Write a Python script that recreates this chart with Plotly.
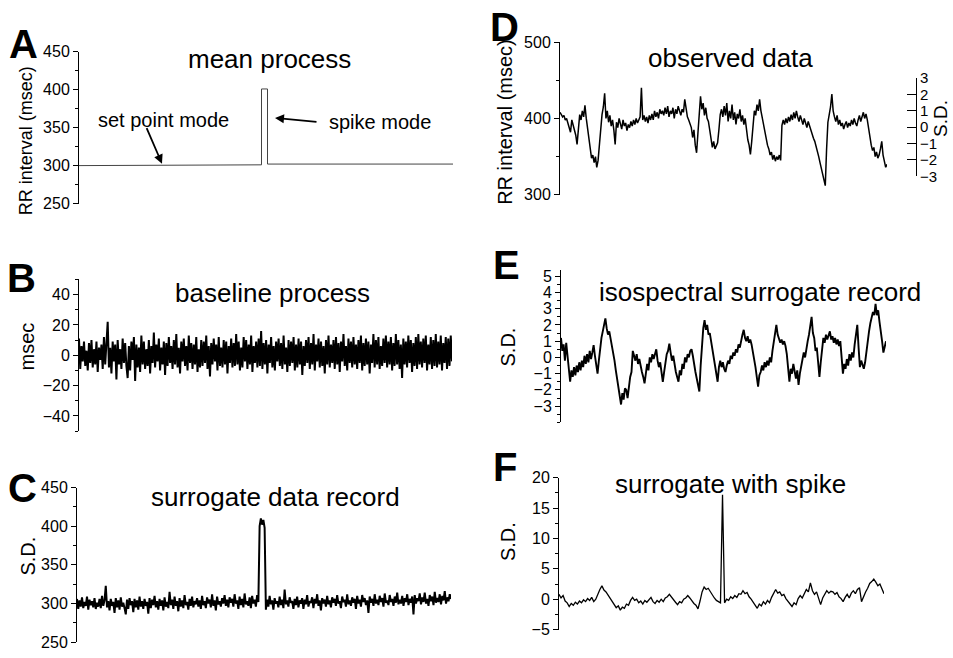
import plotly.graph_objects as go

# ---------------- data ----------------
mean_t = [0, 488, 488, 504, 504, 1000]
mean_rr = [300, 301, 401, 401, 302, 302]

baseline = [
    11, -9, 6, -4, 9, -7, 3, -10, 8, -5, 10, -8, 4, -6, 9, -11, 5, -3, 7, -9, 12, -6, 8, 22, -8,
    5, -12, 9, -4, 7, -16, 10, -6, 4, -9, 11, -5, 8, -7, -15, 6, -10, 9, -3, 12, -17, 7, -8, 5, -11,
    13, -6, 9, -9, 4, -7, 10, -12, 6, -5, 15, -8, 7, -4, 11, -10, 5, -6, 9, -13, 8, -7, 12, -5, 6,
    -9, 10, -6, 14, -8, 5, -12, 9, -4, 11, -7, 6, -10, 13, -5, 8, -9, 7, -6, 12, -11, 4, -8, 10, -7,
    9, -5, 13, -9, 6, -14, 8, -6, 11, -4, 7, -10, 12, -7, 5, -8, 10, -6, 9, -12, 6, -5, 11, -8, 8,
    -7, 14, -6, 9, -10, 5, -8, 12, -4, 10, -9, 7, -6, 13, -11, 6, -5, 9, -8, 11, -7, 16, -9, 8, -6,
    10, -12, 7, -5, 12, -8, 6, -10, 9, -4, 11, -7, 8, -9, 13, -6, 5, -11, 10, -7, 9, -5, 12, -10, 7,
    -8, 11, -6, 9, -13, 6, -7, 10, -5, 12, -9, 8, -6, 14, -10, 7, -4, 11, -8, 9, -7, 6, -12, 10, -6,
    13, -8, 7, -5, 10, -9, 12, -6, 8, -11, 9, -4, 14, -7, 6, -10, 11, -5, 9, -8, 12, -6, 7, -9, 10,
    -5, 13, -10, 8, -7, 11, -6, 9, -12, 7, -5, 14, -8, 10, -6, 12, -9, 6, -7, 11, -5, 13, -8, 9, -6,
    12, -10, 8, -7, 14, -6, 10, -9, 7, -15, 11, -6, 9, -8, 13, -5, 10, -11, 8, -7, 12, -9, 14, -6, 9,
    -8, 11, -5, 13, -10, 7, -6, 12, -9, 10, -7, 14, -8, 9, -6, 13, -10, 8, -5, 12, -9, 11, -7, 13, -4,
]

surrogate = [
    306, 293, 304, 296, 308, 294, 302, 297, 309, 292, 305, 298, 303, 295, 307, 293, 301, 296, 306, 294, 310, 297, 304, 323, 295,
    303, 291, 306, 297, 302, 288, 307, 295, 304, 292, 308, 296, 301, 294, 286, 305, 293, 307, 298, 303, 289, 306, 295, 304, 292,
    309, 296, 303, 293, 306, 297, 302, 287, 307, 294, 305, 298, 310, 295, 303, 292, 306, 297, 304, 291, 308, 296, 302, 294, 315,
    298, 305, 293, 309, 297, 303, 290, 307, 296, 304, 294, 311, 298, 302, 292, 306, 297, 309, 295, 303, 299, 307, 296, 304, 293,
    310, 298, 303, 294, 308, 300, 305, 295, 312, 297, 304, 291, 309, 299, 303, 296, 307, 300, 311, 297, 305, 295, 308, 301, 306,
    296, 312, 300, 304, 293, 309, 298, 306, 295, 313, 299, 303, 297, 308, 294, 310, 300, 305, 296, 311, 302, 400, 410, 402, 408,
    398, 292, 305, 296, 310, 299, 304, 292, 307, 300, 303, 295, 309, 298, 305, 294, 318, 299, 304, 296, 308, 301, 303, 293, 306,
    298, 309, 295, 304, 300, 307, 293, 305, 299, 311, 296, 303, 301, 308, 294, 306, 300, 312, 297, 304, 291, 307, 300, 305, 296,
    310, 299, 304, 295, 308, 301, 306, 297, 311, 300, 303, 294, 309, 302, 305, 296, 312, 299, 304, 297, 308, 301, 306, 293, 310,
    300, 305, 296, 311, 302, 307, 298, 304, 288, 309, 301, 306, 297, 312, 300, 305, 298, 310, 302, 307, 296, 313, 301, 304, 298,
    311, 302, 306, 297, 309, 301, 314, 299, 305, 300, 310, 297, 307, 302, 312, 298, 306, 301, 309, 286, 311, 300, 307, 303, 313,
    299, 308, 302, 314, 300, 306, 297, 311, 303, 309, 298, 315, 301, 307, 302, 312, 299, 310, 304, 316, 300, 308, 303, 312, 306,
]

observed = [
    408, 405, 402, 404, 398, 400, 395, 390, 382, 398, 392, 385, 378,
    366, 390, 405, 398, 410, 402, 417,
    400, 385, 370, 355, 348, 352, 342, 350, 336,
    345, 365, 392, 405, 415, 433,
    400, 410, 395, 404, 390, 398, 385, 366,
    395, 388, 400, 392, 386, 398, 390, 394, 384, 392, 388, 396, 390, 398, 392, 400, 394, 398, 402,
    440,
    398, 404, 396, 402, 394, 404, 398, 406, 398, 410, 402, 408, 400, 412, 406,
    410, 404, 414, 406, 416, 402, 410, 406, 414, 400, 412, 406, 416, 408, 404, 412, 408, 425,
    410, 402, 398, 392, 388, 375, 385, 365, 355,
    380, 410, 429,
    412, 420, 404, 414, 400, 396, 385, 375, 362, 370, 360, 364,
    368, 385, 405, 412,
    402, 416, 404, 420, 396, 410, 400, 418, 398, 408, 392, 406, 400, 412, 396, 404, 392, 400,
    385, 372, 365, 353,
    370, 395, 410, 404, 418, 410, 425,
    410, 400, 392, 380, 372, 365, 360, 352, 356, 346, 352, 344, 350, 346, 352, 345,
    391,
    398, 392, 400, 394, 402, 396, 405, 398, 408, 400, 410, 402, 396, 404, 398, 392, 400, 394, 388, 396,
    390, 384, 380, 374, 370, 364, 358, 350, 342, 335, 325, 318,
    312,
    360, 395, 405, 415, 432,
    410, 402, 396, 404, 392, 398, 390, 394, 386, 392, 396, 388, 394, 390, 398, 392, 400, 394, 390, 398,
    404, 396, 402, 408, 400, 406,
    398, 385, 375, 365, 358, 362, 350, 356, 348, 352, 360, 370, 352, 344, 336, 340,
]

isospectral = [
    1.2, 0.4, 0.8, -0.2, 0.9, 0.1, -0.4, -1.5,
    -0.8, -1.2, -0.6, -1.1, -0.5, -0.9, -0.3, -0.8, -0.2, -0.6, 0.1, -0.4, 0.2, -0.3, 0.4, -0.1, 0.3, 0.75,
    0.1, -0.5, -1.0,
    -0.2, 0.6, 1.2, 1.6, 2.0, 2.4,
    1.8, 1.4, 1.6, 1.2, 0.8, 0.3, -0.2, -0.8, -1.3, -1.8, -2.4, -2.9,
    -2.2, -2.6, -1.9, -2.0, -2.5, -1.6, -1.2, -0.9,
    0.4, 0.1, -0.2, 0.2, -0.4, -0.1, -0.6, -0.9, -1.2, -1.6,
    -1.0, -0.4, -0.8, 0.0, -0.3, 0.2, -0.1, 0.3, 0.5,
    -0.2, -0.6, -0.3, -1.0, -1.5,
    -0.9, -0.2, 0.2, 0.4, 0.85,
    0.3, -0.2, 0.1, -0.6, -0.9, -1.2, -1.5,
    -0.8, -1.1, -0.4, -0.7, 0.0, -0.3, 0.2, 0.0, 0.4, 0.5,
    0.1, -0.5, -0.9, -1.3, -1.7, -2.1,
    -0.5, 1.0, 1.8, 2.3,
    1.7, 2.0, 1.4, 1.5, 1.0, 0.5, 0.0, -0.5, -1.0, -1.5,
    -0.6, -0.2, -0.6, -0.3, -0.7, -0.9,
    -0.5, -0.2, -0.4, 0.1, -0.1, 0.3, 0.1, 0.5, 0.3, 0.8, 0.6, 1.1, 1.4, 1.7,
    1.2, 1.0, 1.3, 0.9, 1.1, 0.8,
    0.4, -0.1, -0.6, -1.2, -1.8,
    -1.1, -0.9, -0.5, -0.8, -0.3, -0.6, -0.2, -0.5, 0.0, -0.3,
    0.4, 0.9, 1.5, 2.0,
    1.4, 1.2, 0.9, 1.1, 0.8, 1.0, 0.7,
    0.2, -0.6, -1.5, -0.7, -1.0, -0.4, -0.9, -1.3, -0.8, -1.7,
    -1.0, -0.5, -0.1, 0.3, 0.0, 0.6, 1.0, 1.4, 1.9, 2.5,
    1.5, 1.2, 0.4, 0.6, -0.3, -1.2,
    -0.3, 0.6, 1.2, 0.9, 1.4, 1.1, 1.3, 1.6,
    1.1, 1.3, 0.9, 1.2, 0.8, 1.1, 0.7, 1.0,
    0.0, -1.0,
    -0.4, -0.7, -0.1, -0.5, 0.2, -0.2, 0.3, 0.0,
    0.8, 1.5, 2.0,
    0.6, -0.6, -0.2, -0.4, -0.7,
    -0.3, 0.4, 1.0, 1.6, 2.1, 2.5, 2.8, 2.6, 3.3,
    2.6, 2.9, 2.2, 1.7, 1.0, 0.3,
    0.7, 1.0,
]

with_spike = [
    0.8, 0.2, 0.6, -0.3, -0.6, -1.2,
    -0.7, -1.0, -0.5, -0.8, -0.3, -0.6, -0.1, -0.4, 0.1, -0.2, 0.3,
    -0.4, 0.0, 0.9, 1.6, 2.2,
    1.5, 1.2, 0.7, 0.2, -0.3, -0.9, -1.4, -1.1, -1.8,
    -1.3, -1.5, -0.8, -1.0, -0.2, 0.3,
    -0.2, 0.0, -0.6, -0.3, -0.8, -0.2, -0.5, -0.1, 0.3,
    -0.4, -0.7, -0.2, -0.5, 0.0, -0.4, 0.2, 0.4, 0.8,
    0.3, -0.2, -0.5, -0.9,
    -0.4, -0.6, 0.0, 0.2, 0.6,
    0.2, -0.3, -0.7, -1.0, -1.6,
    -0.3, 1.2, 2.0,
    1.6, 1.8, 1.2, 0.8, 0.2, -0.2, -0.4,
    -0.6, 17.2, -0.6,
    0.0, -0.2, 0.4, 0.1, 0.6, 0.3, 0.9, 0.8, 1.4,
    0.9, 1.1, 0.4, 0.0, -0.5, -0.9, -1.5,
    -0.8, -1.1, -0.4, -0.8, -0.2, -0.6, 0.3, 0.9, 1.6,
    1.0, 1.2, 0.6, 0.8, 0.1, -0.4, -0.8, -1.2,
    -0.6, -0.9, 0.1, 0.6, 0.2, 1.0, 1.6, 1.2, 2.7,
    1.4, 0.8, 1.2, 0.2, -0.9,
    0.2, 0.9, 1.4, 1.0, 1.3, 1.2,
    0.8, 1.1, 0.4, 0.1, -0.4,
    0.3, 0.8, 0.2, 1.0, 1.4, 0.9, 1.6, 1.9, -0.4,
    0.5, 1.2, 1.8, 2.6, 2.9, 3.3,
    2.8, 2.2, 2.5, 1.6, 0.9,
]

# ---------------- layout helpers ----------------
W, H = 953, 658
FONT = "Arial, Liberation Sans, sans-serif"


def fx(x):
    return x / W


def fy(y):
    return 1 - y / H


def yax(x_anchor, top, bottom, rng, tickvals, minor_dtick, **kw):
    d = dict(
        domain=[fy(bottom), fy(top)], range=rng, anchor=x_anchor,
        showline=True, linecolor="black", linewidth=1,
        ticks="outside", ticklen=5, tickwidth=1, tickcolor="black",
        tickvals=tickvals, showgrid=False, zeroline=False,
        tickfont=dict(size=16, color="black", family=FONT),
        minor=dict(ticks="outside", ticklen=3, tickcolor="black",
                   dtick=minor_dtick, showgrid=False),
    )
    d.update(kw)
    return d


def xax(y_anchor, left, right, rng):
    return dict(domain=[fx(left), fx(right)], range=rng, anchor=y_anchor,
                visible=False, showgrid=False, zeroline=False)


fig = go.Figure()

fig.add_trace(go.Scatter(x=mean_t, y=mean_rr, mode="lines",
                         line=dict(color="#444", width=1), xaxis="x", yaxis="y"))
fig.add_trace(go.Scatter(x=list(range(len(baseline))), y=baseline, mode="lines",
                         line=dict(color="black", width=2.0), xaxis="x2", yaxis="y2"))
fig.add_trace(go.Scatter(x=list(range(len(surrogate))), y=surrogate, mode="lines",
                         line=dict(color="black", width=2.0), xaxis="x3", yaxis="y3"))
fig.add_trace(go.Scatter(x=list(range(len(observed))), y=observed, mode="lines",
                         line=dict(color="black", width=1.5), xaxis="x4", yaxis="y4"))
fig.add_trace(go.Scatter(x=list(range(len(isospectral))), y=isospectral, mode="lines",
                         line=dict(color="black", width=1.9), xaxis="x5", yaxis="y5"))
fig.add_trace(go.Scatter(x=list(range(len(with_spike))), y=with_spike, mode="lines",
                         line=dict(color="black", width=1.3), xaxis="x6", yaxis="y6"))
# carrier for the right-hand S.D. axis of panel D
fig.add_trace(go.Scatter(x=[0], y=[0], mode="markers", marker=dict(opacity=0),
                         hoverinfo="skip", xaxis="x4", yaxis="y7"))

fig.update_layout(
    width=W, height=H, margin=dict(l=0, r=0, t=0, b=0),
    paper_bgcolor="white", plot_bgcolor="rgba(0,0,0,0)", showlegend=False,
    font=dict(family=FONT, color="black"),
    xaxis=xax("y", 79, 453, [0, 1000]),
    yaxis=yax("x", 44, 200, [250, 450], [250, 300, 350, 400, 450], 25),
    xaxis2=xax("y2", 79, 452, [0, len(baseline) - 1]),
    yaxis2=yax("x2", 278, 434, [-50, 50], [-40, -20, 0, 20, 40], 10),
    xaxis3=xax("y3", 77, 451, [0, len(surrogate) - 1]),
    yaxis3=yax("x3", 492, 651, [250, 450], [250, 300, 350, 400, 450], 25),
    xaxis4=xax("y4", 560, 887, [0, len(observed) - 1]),
    yaxis4=yax("x4", 34, 191, [300, 500], [300, 400, 500], 50),
    xaxis5=xax("y5", 561, 886, [0, len(isospectral) - 1]),
    yaxis5=yax("x5", 268, 425, [-4.0, 5.4], [-3, -2, -1, 0, 1, 2, 3, 4, 5], 0.5),
    xaxis6=xax("y6", 559, 884, [0, len(with_spike) - 1]),
    yaxis6=yax("x6", 482, 638, [-5, 20], [-5, 0, 5, 10, 15, 20], 2.5),
    yaxis7=dict(
        domain=[fy(172), fy(71)], range=[-3, 3], anchor="free",
        position=fx(916), side="right", showline=True, linecolor="black", linewidth=1,
        ticks="inside", ticklen=9, tickcolor="black", tickvals=[-3, -2, -1, 0, 1, 2, 3],
        showgrid=False, zeroline=False,
        tickfont=dict(size=15, color="black", family=FONT),
    ),
)

ann = []


def text(x, y, s, size, bold=False, angle=0):
    ann.append(dict(xref="paper", yref="paper", x=fx(x), y=fy(y), text=f"<b>{s}</b>" if bold else s,
                    showarrow=False, xanchor="center", yanchor="middle", textangle=angle,
                    font=dict(size=size, color="black", family=FONT)))


# panel letters
for lx, ly, s in [(23, 36, "A"), (21, 277, "B"), (22, 492, "C"),
                  (504, 19, "D"), (506, 263, "E"), (505, 471, "F")]:
    text(lx, ly, s, 40, bold=True)

# panel titles
text(269, 51, "mean process", 26)
text(272, 292, "baseline process", 26)
text(275, 502, "surrogate data record", 26)
text(730, 50, "observed data", 26)
text(760, 291, "isospectral surrogate record", 26)
text(730, 488, "surrogate with spike", 26)

# axis titles
text(26, 136, "RR interval (msec)", 18, angle=-90)
text(27, 347, "msec", 20, angle=-90)
text(28, 563, "S.D.", 20, angle=-90)
text(505, 116, "RR interval (msec)", 20, angle=-90)
text(508, 347, "S.D.", 20, angle=-90)
text(508, 547, "S.D.", 20, angle=-90)
text(941, 113, "S.D.", 19, angle=-90)

# annotations with arrows in panel A
text(163, 114, "set point mode", 20)
text(380, 116, "spike mode", 20)
for hx, hy, ax, ay in [(162, 159, -16, -37), (275, 112, 43, 4)]:
    ann.append(dict(xref="paper", yref="paper", x=fx(hx), y=fy(hy), ax=ax, ay=ay,
                    text="", showarrow=True, arrowhead=2, arrowsize=1, arrowwidth=1.8,
                    arrowcolor="black"))

fig.update_layout(annotations=ann)
fig.write_html("out.html", config={"displayModeBar": False},
               post_script="document.body.style.margin='0';")
